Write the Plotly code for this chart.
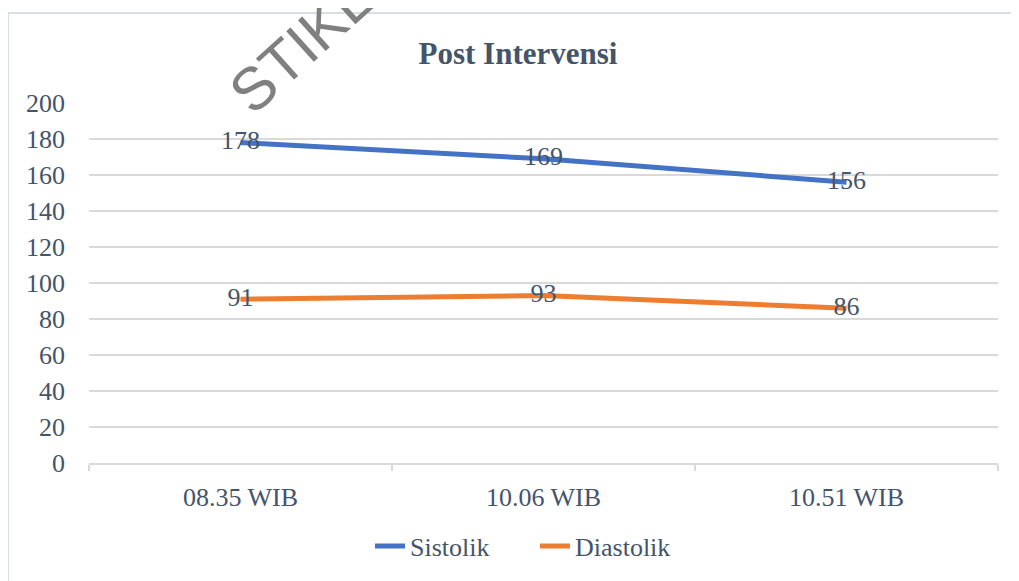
import plotly.graph_objects as go

categories = ["08.35 WIB", "10.06 WIB", "10.51 WIB"]
sistolik = [178, 169, 156]
diastolik = [91, 93, 86]
y_ticks = [0, 20, 40, 60, 80, 100, 120, 140, 160, 180, 200]

TXT = "#44546A"
GRID = "#D9D9D9"
SERIF = "Liberation Serif, Times New Roman, serif"

OFF = 8  # page body margin
W, H = 1019 - OFF, 581 - OFF
L, R, T, B = 89 - OFF, 21, 103 - OFF, 114
pw, ph = W - L - R, H - T - B


def px_x(x):
    return (x - OFF - L) / pw


def px_y(y):
    return (H - B - (y - OFF)) / ph


fig = go.Figure()
fig.add_trace(go.Scatter(
    x=categories, y=sistolik, name="Sistolik", mode="lines+text",
    line=dict(color="#4472C4", width=5),
    text=[str(v) for v in sistolik], textposition="middle center",
    textfont=dict(family=SERIF, size=26, color=TXT),
))
fig.add_trace(go.Scatter(
    x=categories, y=diastolik, name="Diastolik", mode="lines+text",
    line=dict(color="#ED7D31", width=5),
    text=[str(v) for v in diastolik], textposition="middle center",
    textfont=dict(family=SERIF, size=26, color=TXT),
))

fig.update_layout(
    width=W, height=H,
    margin=dict(l=L, r=R, t=T, b=B),
    paper_bgcolor="white", plot_bgcolor="white",
    font=dict(family=SERIF, size=26, color=TXT),
    title=dict(text="<b>Post Intervensi</b>", xref="container", yref="container",
               x=(518 - OFF) / W, y=1 - (53 - OFF) / H, xanchor="center", yanchor="middle",
               font=dict(family=SERIF, size=31, color=TXT)),
    showlegend=True,
    legend=dict(orientation="h", xref="paper", yref="paper",
                x=px_x(535), y=px_y(551), xanchor="center", yanchor="middle",
                entrywidth=120, entrywidthmode="pixels",
                font=dict(family=SERIF, size=26, color=TXT),
                bgcolor="rgba(0,0,0,0)"),
    xaxis=dict(type="category", showgrid=False, showline=True, linecolor=GRID, linewidth=1.5,
               ticks="outside", tickson="boundaries", ticklen=6, tickcolor=GRID, tickwidth=1.5,
               tickfont=dict(family=SERIF, size=26, color=TXT), ticklabelstandoff=10,
               range=[-0.5, 2.5], fixedrange=True),
    yaxis=dict(range=[0, 200], tickvals=y_ticks, showgrid=True, gridcolor=GRID, gridwidth=1.5,
               zeroline=False, showline=False, ticks="",
               tickfont=dict(family=SERIF, size=26, color=TXT), ticklabelstandoff=23),
    shapes=[dict(type="rect", xref="paper", yref="paper",
                 x0=px_x(8), x1=px_x(1040), y0=px_y(600), y1=px_y(12),
                 line=dict(color="#D9DEE5", width=2), layer="below")],
    annotations=[dict(text="STIKES", xref="paper", yref="paper",
                      x=px_x(318), y=px_y(30), xanchor="center", yanchor="middle",
                      textangle=-42, showarrow=False,
                      font=dict(family="Liberation Sans, Arial, sans-serif", size=60, color="#808080"))],
)

fig.write_html("out.html")
